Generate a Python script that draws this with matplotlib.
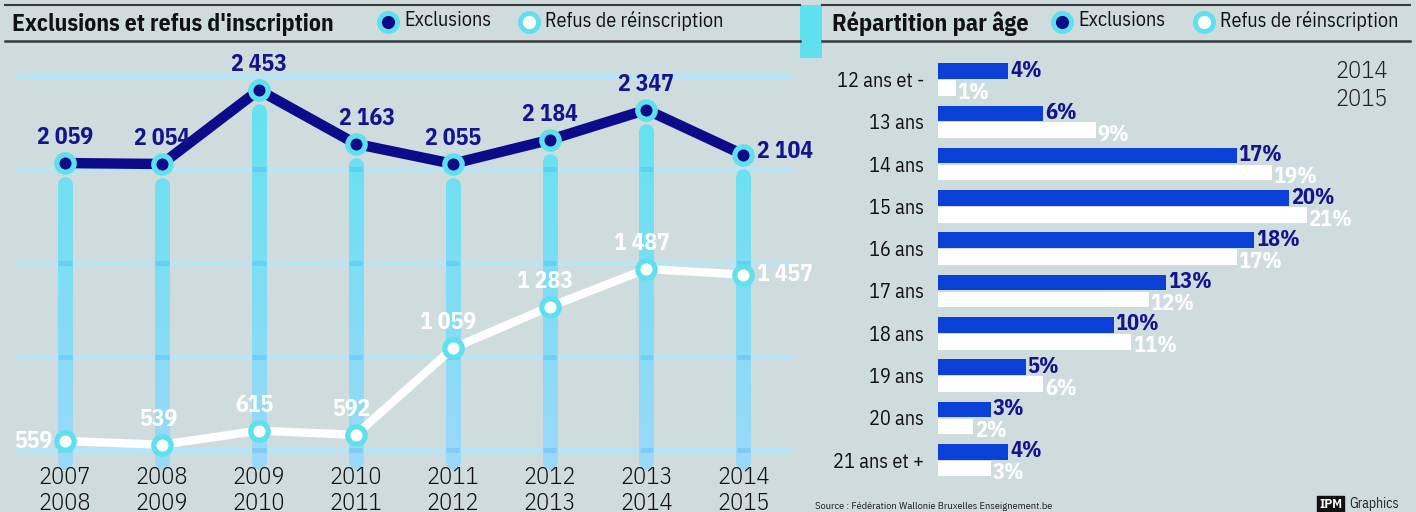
import matplotlib
matplotlib.use("Agg")
import matplotlib.pyplot as plt
from matplotlib import font_manager
from matplotlib.patches import Rectangle
from matplotlib.collections import LineCollection
from matplotlib.colors import to_rgb
import numpy as np

# ---------------- data ----------------
years_top = ["2007", "2008", "2009", "2010", "2011", "2012", "2013", "2014"]
years_bot = ["2008", "2009", "2010", "2011", "2012", "2013", "2014", "2015"]
exclusions = [2059, 2054, 2453, 2163, 2055, 2184, 2347, 2104]
refus = [559, 539, 615, 592, 1059, 1283, 1487, 1457]

age_labels = ["12 ans et -", "13 ans", "14 ans", "15 ans", "16 ans",
              "17 ans", "18 ans", "19 ans", "20 ans", "21 ans et +"]
age_excl = [4, 6, 17, 20, 18, 13, 10, 5, 3, 4]
age_refus = [1, 9, 19, 21, 17, 12, 11, 6, 2, 3]

grid_values = [510, 1015, 1520, 2025, 2530]

# ---------------- style ----------------
names = {f.name for f in font_manager.fontManager.ttflist}
FONT = "Liberation Sans"
for cand in ["IBM Plex Sans Condensed", "Liberation Sans Narrow", "Roboto Condensed"]:
    if cand in names:
        FONT = cand
        break
plt.rcParams["font.family"] = [FONT, "DejaVu Sans"]

BG = "#cfdcdd"
NAVY = "#0c0c8a"
CYAN = "#5fe0ee"
COL_TOP = "#5de2ee"
COL_BOT = "#9ad8f8"
GRID = "#b7e5f6"
BLUE = "#0b40d6"
LBLNAVY = "#14148c"

W, H = 1416, 512
fig = plt.figure(figsize=(W / 100, H / 100), dpi=100, facecolor=BG)

def px_axes(x0, y0, x1, y1):
    return fig.add_axes([x0 / W, 1 - y1 / H, (x1 - x0) / W, (y1 - y0) / H])

# ---------------- left chart ----------------
ax = px_axes(0, 48, 800, 470)
ax.set_facecolor("none")
x = np.arange(len(exclusions))
ax.set_xlim(-0.671, 7.585)
ax.set_ylim(402.5, 2680)
ax.axis("off")

for g in grid_values:
    ax.plot([-0.485, 7.48], [g, g], color=GRID, lw=3.6, solid_capstyle="round", zorder=1)

# gradient columns (cyan at top, light blue at bottom)
base = 446
ct, cb = np.array(to_rgb(COL_TOP)), np.array(to_rgb(COL_BOT))
segs, cols = [], []
for xi, v in zip(x, exclusions):
    top = v - 115
    ys = np.linspace(base, top, 31)
    step = ys[1] - ys[0]
    for k in range(30):
        y_hi = min(ys[k + 1] + step * 0.6, top)
        segs.append([(xi, ys[k]), (xi, y_hi)])
        t = (ys[k] - base) / (2500 - base)
        cols.append(cb + (ct - cb) * min(t, 1))
    ax.plot([xi], [top], marker="o", ms=10.5, mew=0, color=cols[-1], zorder=2)
    ax.plot([xi], [base], marker="o", ms=10.5, mew=0, color=COL_BOT, zorder=2)
    for g in grid_values:
        if g < top:
            ax.plot([xi - 0.07, xi + 0.07], [g, g], color="#2d9ee6", alpha=0.22,
                    lw=3.6, solid_capstyle="butt", zorder=2.5)
ax.add_collection(LineCollection(segs, colors=cols, linewidths=10.5, capstyle="butt",
                                 antialiaseds=False, zorder=2))

ax.plot(x, exclusions, color=NAVY, lw=7.5, zorder=3, solid_capstyle="round")
ax.plot(x, exclusions, ls="none", marker="o", ms=12.5, mfc=NAVY, mec=CYAN, mew=3.8, zorder=4)
ax.plot(x, refus, color="white", lw=6, zorder=3, solid_capstyle="round")
ax.plot(x, refus, ls="none", marker="o", ms=12.5, mfc="white", mec=CYAN, mew=3.8, zorder=4)

def fmt(v):
    return f"{v:,}".replace(",", " ")

LBL = dict(fontsize=17, fontweight="bold", zorder=5)
n = len(x)
for i in range(n):
    if i == n - 1:
        ax.annotate(fmt(exclusions[i]), (x[i], exclusions[i]), xytext=(10, 2),
                    textcoords="offset points", ha="left", va="center",
                    color=LBLNAVY, **LBL)
    else:
        dx = 8 if i == 3 else 0
        ax.annotate(fmt(exclusions[i]), (x[i], exclusions[i]), xytext=(dx, 10),
                    textcoords="offset points", ha="center", va="bottom",
                    color=LBLNAVY, **LBL)
    if i == 0:
        ax.annotate(fmt(refus[i]), (x[i], refus[i]), xytext=(-9, 0),
                    textcoords="offset points", ha="right", va="center",
                    color="white", **LBL)
    elif i == n - 1:
        ax.annotate(fmt(refus[i]), (x[i], refus[i]), xytext=(10, 0),
                    textcoords="offset points", ha="left", va="center",
                    color="white", **LBL)
    else:
        ax.annotate(fmt(refus[i]), (x[i], refus[i]), xytext=(-3, 10),
                    textcoords="offset points", ha="center", va="bottom",
                    color="white", **LBL)

for i in range(n):
    ax.text(x[i], 422, years_top[i] + "\n" + years_bot[i], ha="center", va="top",
            fontsize=17.5, fontweight=300, color="#111111", linespacing=1.15,
            transform=ax.transData, clip_on=False)

# ---------------- right chart ----------------
ax2 = px_axes(938, 50, 1400, 480)
ax2.set_facecolor("none")
rows = np.arange(len(age_labels))
ax2.set_xlim(0, 462 / 17.56)
ax2.set_ylim(9.468, -0.697)
ax2.barh(rows - 0.2, age_excl, height=0.37, color=BLUE, zorder=3)
ax2.barh(rows + 0.2, age_refus, height=0.37, color="white", zorder=2)
for r in rows:
    ax2.text(age_excl[r] + 0.1, r - 0.22, f"{age_excl[r]}%", ha="left", va="center",
             color=LBLNAVY, fontsize=16, fontweight="bold", zorder=4)
    ax2.text(age_refus[r] + 0.1, r + 0.3, f"{age_refus[r]}%", ha="left", va="center",
             color="white", fontsize=16, fontweight="bold", zorder=4)
ax2.set_yticks(rows)
ax2.set_yticklabels(age_labels, fontsize=14.5, color="#111111")
ax2.tick_params(axis="y", length=0, pad=10)
ax2.set_xticks([])
for s in ax2.spines.values():
    s.set_visible(False)

# ---------------- overlay (header etc.) ----------------
ov = fig.add_axes([0, 0, 1, 1], zorder=-1)
ov.set_xlim(0, W)
ov.set_ylim(H, 0)
ov.axis("off")
ov.set_facecolor("none")

ov.add_patch(Rectangle((800, 5), 22, 53, color=CYAN, lw=0))
for (xa, xb) in [(5, 800), (822, 1410)]:
    ov.plot([xa, xb], [5, 5], color="#3a3a3a", lw=1.5)
    ov.plot([xa, xb], [41, 41], color="#3a3a3a", lw=1.8)

ov.text(12, 24, "Exclusions et refus d'inscription", fontsize=17, fontweight="bold",
        va="center", ha="left", color="#111111")
ov.text(832, 24, "Répartition par âge", fontsize=17.3, fontweight="bold",
        va="center", ha="left", color="#111111")

for (cx, fc, label) in [(388, NAVY, "Exclusions"), (529, "white", "Refus de réinscription"),
                        (1062, NAVY, "Exclusions"), (1204, "white", "Refus de réinscription")]:
    ov.plot([cx], [22], marker="o", ms=13, mfc=fc, mec=CYAN, mew=3.5, ls="none")
    ov.text(cx + 16, 21, label, fontsize=14.5, va="center", ha="left", color="#111111")

ov.text(1388, 72, "2014", fontsize=17.5, fontweight=300, ha="right", va="center", color="#222222")
ov.text(1388, 100, "2015", fontsize=17.5, fontweight=300, ha="right", va="center", color="#222222")

ov.text(815, 506, "Source : Fédération Wallonie Bruxelles Enseignement.be", fontsize=7.5,
        ha="left", va="center", color="#222222")
ov.text(1319, 504, "IPM", fontsize=9.5, fontweight="bold", ha="left", va="center", color="white",
        bbox=dict(boxstyle="square,pad=0.12", fc="#111111", ec="#111111"))
ov.text(1349, 504, "Graphics", fontsize=10, ha="left", va="center", color="#222222")

fig.savefig("out.png", dpi=100, facecolor=BG)
